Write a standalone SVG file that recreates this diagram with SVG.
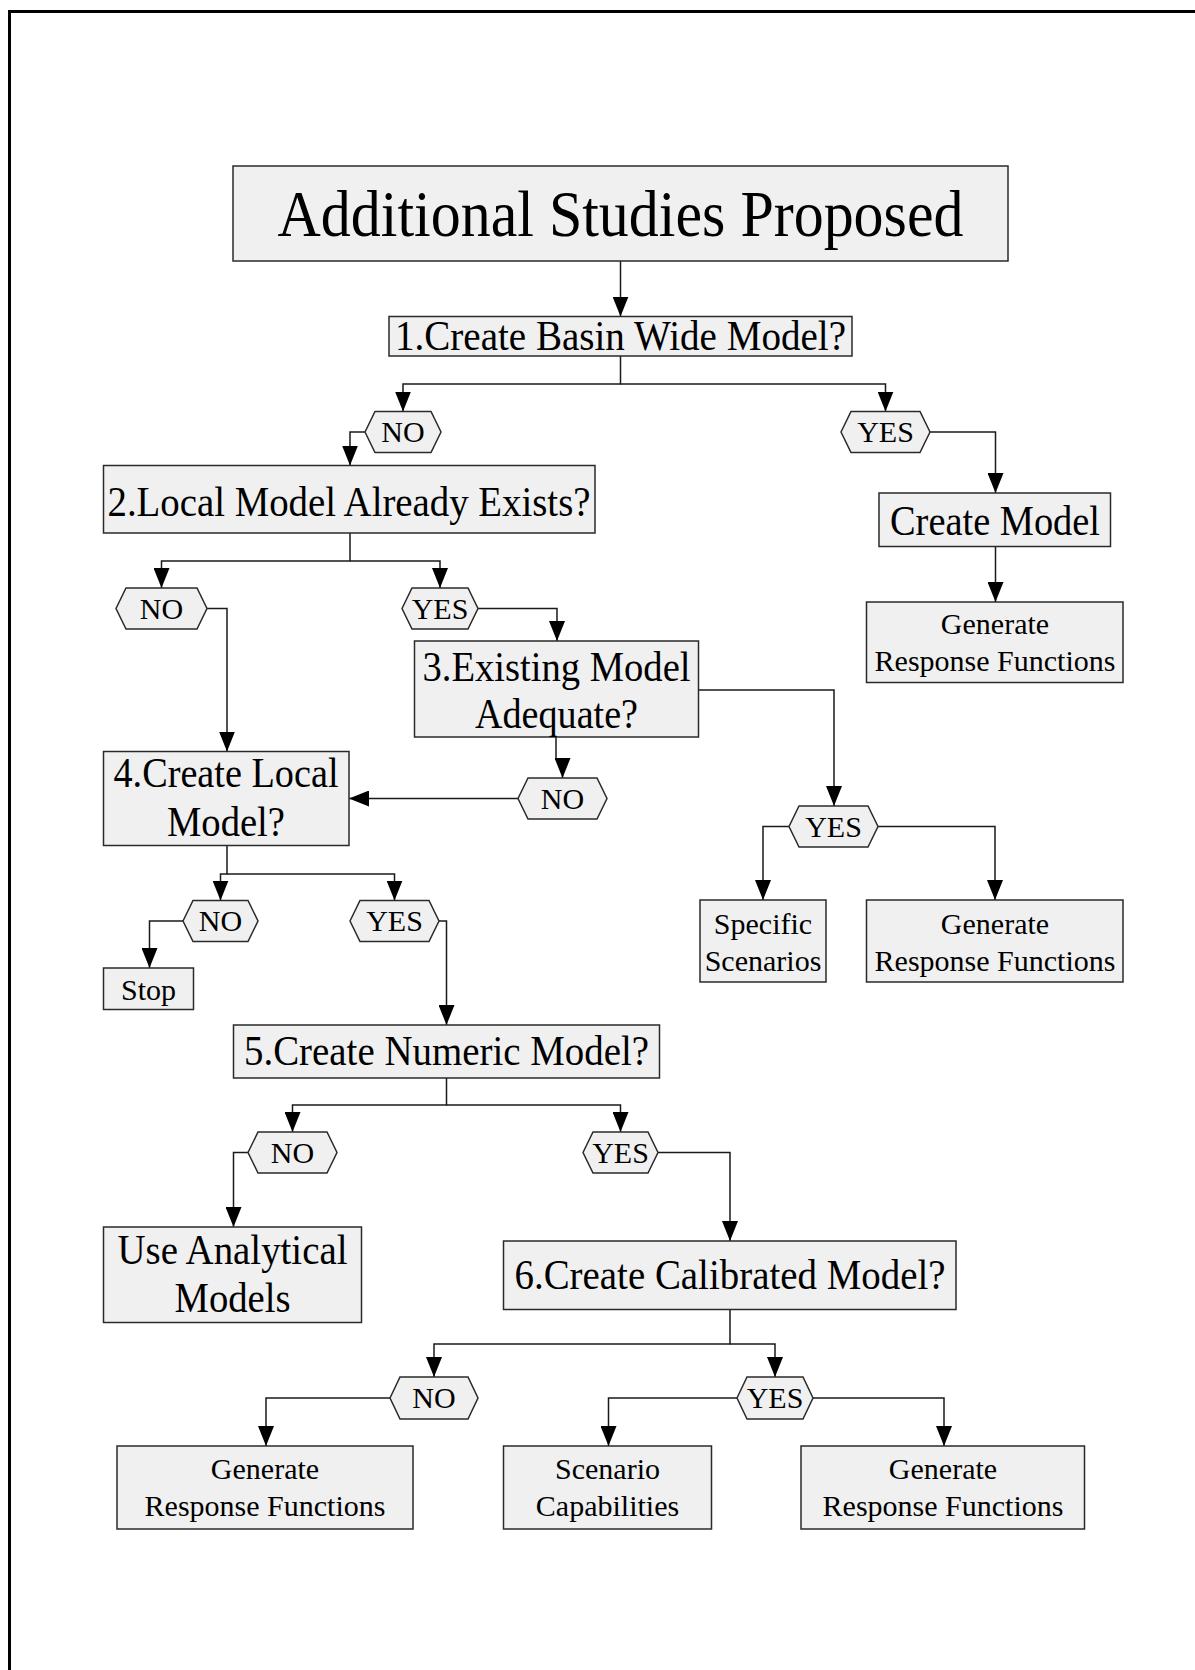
<svg xmlns="http://www.w3.org/2000/svg" width="1195" height="1670" viewBox="0 0 1195 1670">
<defs>
<marker id="ah" viewBox="0 0 20 16" refX="20" refY="8" markerWidth="20" markerHeight="16" markerUnits="userSpaceOnUse" orient="auto">
<path d="M0,0 L20,8 L0,16 z" fill="#000"/>
</marker>
<style>
.box{fill:#f0f0f0;stroke:#2a2a2a;stroke-width:1.5}
.hex{fill:#f0f0f0;stroke:#2a2a2a;stroke-width:1.5}
.t{font-family:"Liberation Serif","Times New Roman",serif;fill:#000;text-anchor:middle}
.big{font-size:42px}
.sm{font-size:30px}
.hl{font-size:30px}
.c{fill:none;stroke:#1a1a1a;stroke-width:1.5}
.a{marker-end:url(#ah)}
.frame{stroke:#000;stroke-width:3;fill:none}
</style>
</defs>
<rect width="1195" height="1670" fill="#fff"/>
<path class="frame" d="M9.5,1670 V11.5 H1195"/>

<g id="connectors">
<path class="c a" d="M620.5,261 V316.5"/>
<path class="c a" d="M620.5,356 V384 H403 V411.5"/>
<path class="c a" d="M620.5,384 H885.5 V411.5"/>
<path class="c a" d="M365,432 H350 V465.5"/>
<path class="c a" d="M930,432 H995.5 V493"/>
<path class="c a" d="M995.5,546.5 V602"/>
<path class="c a" d="M350,533 V561 H161.5 V588"/>
<path class="c a" d="M350,561 H440 V588"/>
<path class="c a" d="M207,608.5 H227 V751.5"/>
<path class="c a" d="M478,608.5 H557 V641"/>
<path class="c a" d="M698.5,690 H834 V806"/>
<path class="c a" d="M556,737 V759 H562.5 V778"/>
<path class="c a" d="M518,798.5 H349"/>
<path class="c a" d="M789,826.5 H763 V900"/>
<path class="c a" d="M878,826.5 H995 V900"/>
<path class="c a" d="M227,845.5 V874 H220.5 V900.5"/>
<path class="c a" d="M227,874 H394.5 V900.5"/>
<path class="c a" d="M183,921 H149.5 V968"/>
<path class="c a" d="M439,921 H446.5 V1025"/>
<path class="c a" d="M446.5,1078 V1105 H292.5 V1132"/>
<path class="c a" d="M446.5,1105 H620.5 V1132"/>
<path class="c a" d="M248,1152.5 H233.5 V1227"/>
<path class="c a" d="M658,1152.5 H730 V1241"/>
<path class="c a" d="M730,1309.5 V1344 H434 V1377"/>
<path class="c a" d="M730,1344 H775 V1377"/>
<path class="c a" d="M390,1398 H266 V1446"/>
<path class="c a" d="M737,1398 H608.5 V1446"/>
<path class="c a" d="M813,1398 H944 V1446"/>
</g>

<g id="title">
<rect class="box" x="233" y="166" width="775" height="95"/>
<text class="t" x="620.5" y="236" font-size="65" textLength="686" lengthAdjust="spacingAndGlyphs">Additional Studies Proposed</text>
</g>
<g id="q1">
<rect class="box" x="389" y="316.5" width="463" height="39.5"/>
<text class="t big" x="620.5" y="350" textLength="451" lengthAdjust="spacingAndGlyphs">1.Create Basin Wide Model?</text>
</g>
<g id="no1">
<polygon class="hex" points="365,432 375,411.5 431,411.5 441,432 431,452.5 375,452.5"/>
<text class="t hl" x="403" y="442">NO</text>
</g>
<g id="yes1">
<polygon class="hex" points="841,432 851,411.5 920,411.5 930,432 920,452.5 851,452.5"/>
<text class="t hl" x="885.5" y="442">YES</text>
</g>
<g id="q2">
<rect class="box" x="103.5" y="465.5" width="491.5" height="67.5"/>
<text class="t big" x="349" y="516" textLength="483" lengthAdjust="spacingAndGlyphs">2.Local Model  Already Exists?</text>
</g>
<g id="createModel">
<rect class="box" x="879" y="493" width="231.5" height="53.5"/>
<text class="t big" x="995" y="535" textLength="210" lengthAdjust="spacingAndGlyphs">Create Model</text>
</g>
<g id="grf1">
<rect class="box" x="866.5" y="602" width="256.5" height="80.5"/>
<text class="t sm" x="995" y="634">Generate</text>
<text class="t sm" x="995" y="671">Response Functions</text>
</g>
<g id="no2">
<polygon class="hex" points="116,608.5 126,588 197,588 207,608.5 197,629 126,629"/>
<text class="t hl" x="161.5" y="618.5">NO</text>
</g>
<g id="yes2">
<polygon class="hex" points="402,608.5 412,588 468,588 478,608.5 468,629 412,629"/>
<text class="t hl" x="440" y="618.5">YES</text>
</g>
<g id="q3">
<rect class="box" x="414.5" y="641" width="284" height="96"/>
<text class="t big" x="556.5" y="681" textLength="268" lengthAdjust="spacingAndGlyphs">3.Existing Model</text>
<text class="t big" x="556.5" y="728" textLength="163" lengthAdjust="spacingAndGlyphs">Adequate?</text>
</g>
<g id="no3">
<polygon class="hex" points="518,798.5 528,778 597,778 607,798.5 597,819 528,819"/>
<text class="t hl" x="562.5" y="808.5">NO</text>
</g>
<g id="q4">
<rect class="box" x="103.5" y="751.5" width="245.5" height="94"/>
<text class="t big" x="226" y="787" textLength="225" lengthAdjust="spacingAndGlyphs">4.Create Local</text>
<text class="t big" x="226" y="836" textLength="118" lengthAdjust="spacingAndGlyphs">Model?</text>
</g>
<g id="yes3">
<polygon class="hex" points="789,826.5 799,806 868,806 878,826.5 868,847 799,847"/>
<text class="t hl" x="833.5" y="836.5">YES</text>
</g>
<g id="specific">
<rect class="box" x="700" y="900" width="126" height="82"/>
<text class="t sm" x="763" y="934">Specific</text>
<text class="t sm" x="763" y="971">Scenarios</text>
</g>
<g id="grf2">
<rect class="box" x="866.5" y="900" width="256.5" height="82"/>
<text class="t sm" x="995" y="934">Generate</text>
<text class="t sm" x="995" y="971">Response Functions</text>
</g>
<g id="no4">
<polygon class="hex" points="183,921 193,900.5 248,900.5 258,921 248,941.5 193,941.5"/>
<text class="t hl" x="220.5" y="931">NO</text>
</g>
<g id="yes4">
<polygon class="hex" points="350,921 360,900.5 429,900.5 439,921 429,941.5 360,941.5"/>
<text class="t hl" x="394.5" y="931">YES</text>
</g>
<g id="stop">
<rect class="box" x="103.5" y="968" width="90" height="41.5"/>
<text class="t hl" x="148.5" y="1000">Stop</text>
</g>
<g id="q5">
<rect class="box" x="233.5" y="1025" width="426" height="53"/>
<text class="t big" x="446.5" y="1065" textLength="405" lengthAdjust="spacingAndGlyphs">5.Create Numeric Model?</text>
</g>
<g id="no5">
<polygon class="hex" points="248,1152.5 258,1132 327,1132 337,1152.5 327,1173 258,1173"/>
<text class="t hl" x="292.5" y="1162.5">NO</text>
</g>
<g id="yes5">
<polygon class="hex" points="583,1152.5 593,1132 648,1132 658,1152.5 648,1173 593,1173"/>
<text class="t hl" x="620.5" y="1162.5">YES</text>
</g>
<g id="analytical">
<rect class="box" x="103.5" y="1227" width="258" height="95.5"/>
<text class="t big" x="232.5" y="1264" textLength="230" lengthAdjust="spacingAndGlyphs">Use Analytical</text>
<text class="t big" x="232.5" y="1312" textLength="116" lengthAdjust="spacingAndGlyphs">Models</text>
</g>
<g id="q6">
<rect class="box" x="503.5" y="1241" width="452.5" height="68.5"/>
<text class="t big" x="730" y="1289" textLength="431" lengthAdjust="spacingAndGlyphs">6.Create Calibrated Model?</text>
</g>
<g id="no6">
<polygon class="hex" points="390,1398 400,1377 468,1377 478,1398 468,1419 400,1419"/>
<text class="t hl" x="434" y="1408">NO</text>
</g>
<g id="yes6">
<polygon class="hex" points="737,1398 747,1377 803,1377 813,1398 803,1419 747,1419"/>
<text class="t hl" x="775" y="1408">YES</text>
</g>
<g id="grfA">
<rect class="box" x="117" y="1446" width="296" height="83"/>
<text class="t sm" x="265" y="1479">Generate</text>
<text class="t sm" x="265" y="1516">Response Functions</text>
</g>
<g id="scenario">
<rect class="box" x="503.5" y="1446" width="208" height="83"/>
<text class="t sm" x="607.5" y="1479">Scenario</text>
<text class="t sm" x="607.5" y="1516">Capabilities</text>
</g>
<g id="grfC">
<rect class="box" x="801" y="1446" width="283.5" height="83"/>
<text class="t sm" x="943" y="1479">Generate</text>
<text class="t sm" x="943" y="1516">Response Functions</text>
</g>
</svg>
